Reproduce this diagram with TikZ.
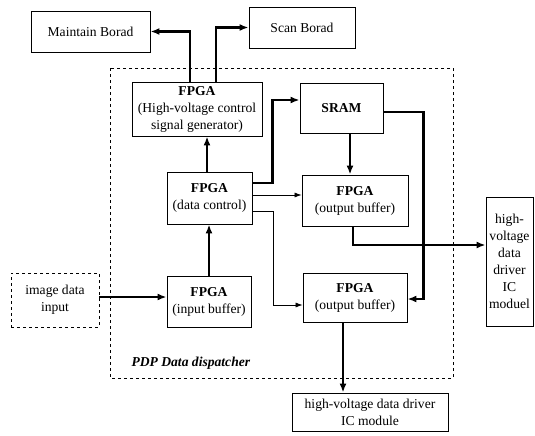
\documentclass[tikz,border=0pt]{standalone}
\usepackage{fontspec}
\setmainfont{Liberation Serif}
\usetikzlibrary{arrows.meta,calc}
\begin{document}
\begin{tikzpicture}[x=1pt,y=-1pt,
  box/.style={draw,line width=0.9pt,align=center,inner sep=1pt,font=\fontsize{13.6}{17}\selectfont},
  dbox/.style={box,dashed},
  thickarrow/.style={line width=2.4pt,-{Latex[length=9pt,width=7pt]}},
  thinarrow/.style={line width=0.6pt,-{Latex[length=7pt,width=5pt]}}]
\useasboundingbox (0,0) rectangle (535,436);
% dispatcher frame
\draw[dashed,line width=0.9pt] (110,68) rectangle (453,378);
\node[anchor=west,font=\fontsize{13.6}{17}\selectfont\bfseries\itshape] (lbl) at (128,363) {PDP Data dispatcher};
% nodes
\node[box,minimum width=119pt,minimum height=41pt] (maint) at (90.5,31.5) {Maintain Borad};
\node[box,minimum width=106pt,minimum height=41pt] (scan) at (302,27.5) {Scan Borad};
\node[box,minimum width=130pt,minimum height=54pt] (hv) at (197,109) {\textbf{FPGA}\\(High-voltage control\\signal generator)};
\node[box,minimum width=83pt,minimum height=50pt] (sram) at (341.5,108) {\textbf{SRAM}};
\node[box,minimum width=85pt,minimum height=52pt] (dc) at (209.5,198) {\textbf{FPGA}\\(data control)};
\node[box,minimum width=106pt,minimum height=51pt] (ob1) at (355,200.5) {\textbf{FPGA}\\(output buffer)};
\node[box,minimum width=104pt,minimum height=49pt] (ob2) at (355,297.5) {\textbf{FPGA}\\(output buffer)};
\node[box,minimum width=84pt,minimum height=51pt] (ib) at (209,301.5) {\textbf{FPGA}\\(input buffer)};
\node[dbox,minimum width=88pt,minimum height=54pt] (img) at (55,300) {image data\\input};
\node[box,minimum width=47pt,minimum height=129pt] (hvd) at (509.5,261.5) {high-\\voltage\\data\\driver\\IC\\moduel};
\node[box,minimum width=156pt,minimum height=38pt] (hvb) at (370,412) {high-voltage data driver\\IC module};
% connectors
\draw[thickarrow] ([xshift=-7pt]hv.north) |- (maint.east);
\draw[thickarrow] ([xshift=19pt]hv.north) |- (scan.west);
\draw[thickarrow] ([xshift=-2.5pt]dc.north) -- ([xshift=-2.5pt]dc.north |- hv.south);
\draw[thickarrow] ([yshift=15pt]dc.east) -- ++(20,0) |- ([yshift=8pt]sram.west);
\draw[thinarrow] ([yshift=3pt]dc.east) -- ([yshift=3pt]dc.east -| ob1.west);
\draw[thinarrow] ([yshift=-13pt]dc.east) -- ++(21,0) |- ([yshift=-7.5pt]ob2.west);
\draw[thickarrow] ([xshift=8.5pt]sram.south) -- ([xshift=8.5pt]sram.south |- ob1.north);
\draw[thickarrow] ([yshift=-4pt]sram.east) -- ++(40,0) |- ([yshift=-1.5pt]ob2.east);
\draw[thickarrow] ([xshift=-2pt]ob1.south) |- ([yshift=16.5pt]hvd.west);
\draw[thickarrow] (ib.north) -- (ib.north |- dc.south);
\draw[thickarrow] ([yshift=3pt]img.east) -- ([yshift=3pt]img.east -| ib.west);
\draw[thickarrow] ([xshift=-12pt]ob2.south) -- ([xshift=-12pt]ob2.south |- hvb.north);
\end{tikzpicture}
\end{document}
